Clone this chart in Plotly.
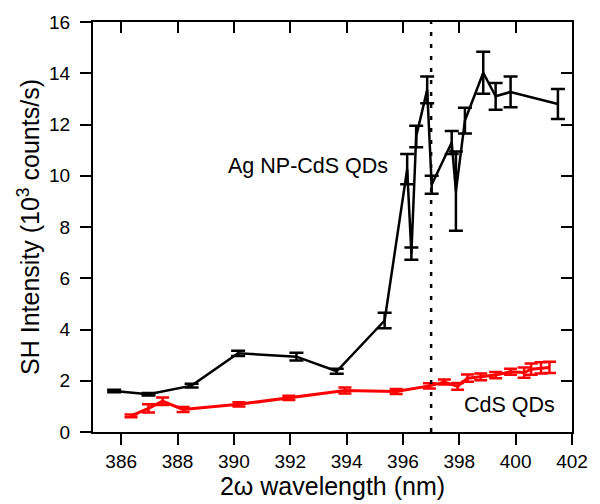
import plotly.graph_objects as go

# Ag NP-CdS QDs series: wavelength (nm), SH intensity (10^3 counts/s), error
ag_x = [385.75, 386.97, 388.5, 390.15, 392.22, 393.65, 395.35, 396.15, 396.3,
        396.47, 396.86, 397.02, 397.73, 397.88, 398.2, 398.85, 399.29, 399.82, 401.5]
ag_y = [1.6, 1.47, 1.81, 3.07, 2.94, 2.37, 4.35, 10.26, 6.96,
        11.53, 13.35, 9.65, 11.3, 9.4, 12.15, 14.02, 13.1, 13.27, 12.8]
ag_err = [0.05, 0.05, 0.07, 0.1, 0.15, 0.1, 0.3, 0.59, 0.24,
          0.42, 0.52, 0.35, 0.45, 1.55, 0.5, 0.82, 0.52, 0.6, 0.59]

# CdS QDs series
cds_x = [386.35, 386.97, 387.47, 388.2, 390.18, 391.95, 393.94, 395.76, 396.94, 397.47,
         397.94, 398.29, 398.76, 399.29, 399.82, 400.3, 400.55, 400.9, 401.2]
cds_y = [0.63, 0.92, 1.2, 0.88, 1.08, 1.33, 1.62, 1.58, 1.8, 1.95,
         1.78, 2.1, 2.15, 2.22, 2.35, 2.32, 2.45, 2.5, 2.52]
cds_err = [0.05, 0.16, 0.15, 0.1, 0.08, 0.08, 0.12, 0.1, 0.1, 0.1,
           0.13, 0.14, 0.13, 0.12, 0.12, 0.2, 0.22, 0.22, 0.22]

x_range = [385, 402]
y_range = [0, 16]
x_ticks = [386, 388, 390, 392, 394, 396, 398, 400, 402]
y_ticks = [0, 2, 4, 6, 8, 10, 12, 14, 16]
marker_wavelength = 397

FONT = "Arial, Liberation Sans, sans-serif"

fig = go.Figure()

fig.add_trace(go.Scatter(
    x=ag_x, y=ag_y, mode="lines",
    line=dict(color="black", width=2.5),
    error_y=dict(type="data", array=ag_err, color="black", thickness=2.5, width=7),
    showlegend=False,
))

fig.add_trace(go.Scatter(
    x=cds_x, y=cds_y, mode="lines",
    line=dict(color="#ff0000", width=3),
    error_y=dict(type="data", array=cds_err, color="#ff0000", thickness=2.5, width=6.5),
    showlegend=False,
))

# vertical dotted line at the marked wavelength
fig.add_trace(go.Scatter(
    x=[marker_wavelength, marker_wavelength], y=y_range, mode="lines",
    line=dict(color="black", width=2.5, dash="4px,8px"),
    showlegend=False, hoverinfo="skip",
))

# invisible trace anchoring the mirrored top/right axes
fig.add_trace(go.Scatter(
    x=x_range, y=y_range, xaxis="x2", yaxis="y2", mode="markers",
    marker=dict(opacity=0), showlegend=False, hoverinfo="skip",
))

axis_common = dict(showgrid=False, zeroline=False, showline=True,
                   linecolor="black", linewidth=2, tickcolor="black",
                   tickwidth=2, ticklen=11)

fig.update_layout(
    width=600, height=504,
    margin=dict(l=93, r=25, t=16, b=72),
    paper_bgcolor="white", plot_bgcolor="white",
    font=dict(family=FONT, color="black", size=19),
    xaxis=dict(range=x_range, tickvals=x_ticks, ticks="outside",
               title=dict(text="2ω wavelength (nm)", font=dict(size=25), standoff=2),
               tickfont=dict(size=19), **axis_common),
    yaxis=dict(range=y_range, tickvals=y_ticks, ticks="outside",
               title=dict(text="SH Intensity (10<sup>3</sup> counts/s)", font=dict(size=25), standoff=2),
               tickfont=dict(size=19), ticklabelstandoff=6, **axis_common),
    xaxis2=dict(range=x_range, tickvals=x_ticks, ticks="inside", side="top",
                overlaying="x", showticklabels=False, **axis_common),
    yaxis2=dict(range=y_range, tickvals=y_ticks, ticks="inside", side="right",
                overlaying="y", showticklabels=False, **axis_common),
    annotations=[
        dict(x=395.55, y=10.4, xref="x", yref="y", text="Ag NP-CdS QDs",
             showarrow=False, xanchor="right", yanchor="middle", font=dict(size=21.5)),
        dict(x=401.47, y=1.05, xref="x", yref="y", text="CdS QDs",
             showarrow=False, xanchor="right", yanchor="middle", font=dict(size=21.5)),
    ],
)

fig.write_html("out.html")
